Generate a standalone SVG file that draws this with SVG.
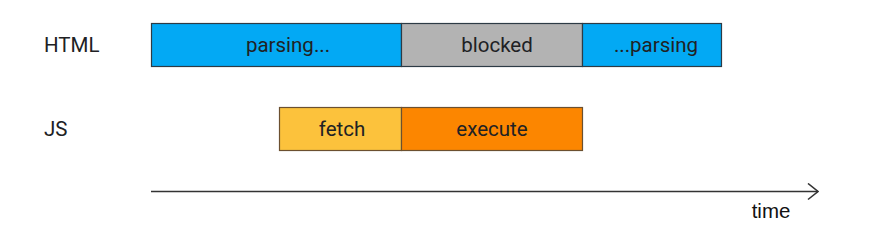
<svg xmlns="http://www.w3.org/2000/svg" width="871" height="231" viewBox="0 0 871 231">
<style>
.lbl{font-family:Roboto,"Liberation Sans",sans-serif;font-size:20.5px;fill:#202124}
.row{font-family:Roboto,"Liberation Sans",sans-serif;font-size:20.5px;fill:#202124}
.h{stroke:#2d3b45;stroke-width:1.2}
.j{stroke:#6b5030;stroke-width:1.2}
</style>
<defs>
<marker id="chev" viewBox="0 0 12 18" refX="11" refY="9" markerWidth="12" markerHeight="18" markerUnits="userSpaceOnUse" orient="auto">
<path d="M1,1 L11,9 L1,17" fill="none" stroke="#333" stroke-width="1.6"/>
</marker>
</defs>
<rect width="871" height="231" fill="#fff"/>
<text class="row" x="44" y="51.5">HTML</text>
<text class="row" x="44" y="135.5">JS</text>
<g id="parsing1"><rect class="h" x="151.5" y="23.5" width="250" height="43" fill="#03A9F4"/><text class="lbl" x="288" y="51.5" text-anchor="middle">parsing...</text></g>
<g id="blocked"><rect class="h" x="401.5" y="23.5" width="181" height="43" fill="#B3B3B3"/><text class="lbl" x="497" y="51.5" text-anchor="middle">blocked</text></g>
<g id="parsing2"><rect class="h" x="582.5" y="23.5" width="139" height="43" fill="#03A9F4"/><text class="lbl" x="656" y="51.5" text-anchor="middle">...parsing</text></g>
<g id="fetch"><rect class="j" x="279.5" y="107.5" width="122" height="43" fill="#FCC23C"/><text class="lbl" x="342" y="135.5" text-anchor="middle">fetch</text></g>
<g id="execute"><rect class="j" x="401.5" y="107.5" width="181" height="43" fill="#FC8600"/><text class="lbl" x="492" y="135.5" text-anchor="middle">execute</text></g>
<g id="connectors">
<line x1="151" y1="191.5" x2="818" y2="191.5" stroke="#333" stroke-width="1.4" marker-end="url(#chev)"/>
</g>
<text x="771" y="218" text-anchor="middle" font-family="'Liberation Sans',Arial,sans-serif" font-size="20.5" fill="#111">time</text>
</svg>
